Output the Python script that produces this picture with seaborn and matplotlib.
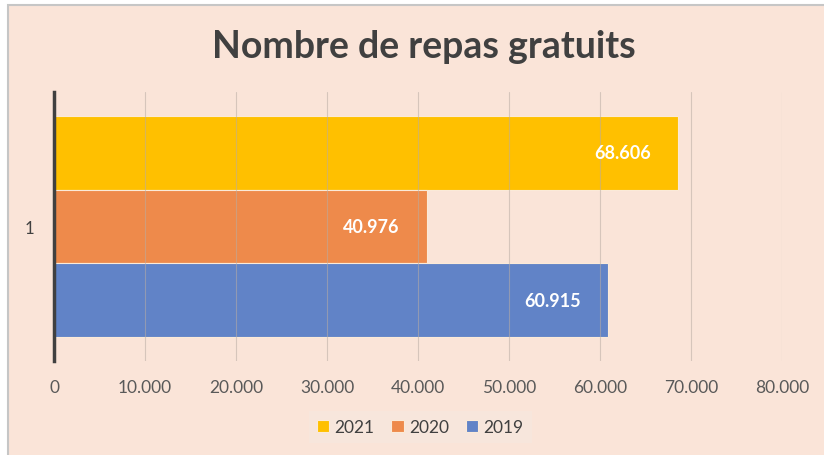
import pandas as pd
import seaborn as sns
import matplotlib.pyplot as plt
from matplotlib.patches import Rectangle

# valeurs
annees = ["2021", "2020", "2019"]
repas = [68606, 40976, 60915]
categorie = ["1", "1", "1"]
couleurs = ["#FFC000", "#EE8A4B", "#6183C7"]
graduations = [0, 10000, 20000, 30000, 40000, 50000, 60000, 70000, 80000]

df = pd.DataFrame({"cat": categorie, "annee": annees, "repas": repas})

fond = "#FAE4D8"
sns.set_theme(style="white")
plt.rcParams["font.family"] = ["Lato", "DejaVu Sans"]

fig = plt.figure(figsize=(8.24, 4.56), dpi=100, facecolor="white")
fig.patches.append(Rectangle((8 / 824, -0.05), 1.0, 1.05 - 6 / 456, transform=fig.transFigure,
                             facecolor=fond, edgecolor="#c6c6c6", linewidth=1.5, zorder=-10))
ax = fig.add_axes([54 / 824, 1 - 362 / 456, 728 / 824, 269 / 456])
ax.set_facecolor(fond)

sns.barplot(data=df, x="repas", y="cat", hue="annee", hue_order=annees, palette=couleurs,
            orient="h", width=0.82, saturation=1, edgecolor="#fbead8", linewidth=0.8, ax=ax)

ax.set_xlim(0, 80000)
ax.set_xticks(graduations)
ax.set_xticklabels([f"{v:,.0f}".replace(",", ".") for v in graduations], color="#595959", fontsize=12.5)
ax.tick_params(axis="x", length=0, pad=13)
ax.tick_params(axis="y", length=0, pad=14, labelcolor="#404040", labelsize=12)
ax.set_xlabel("")
ax.set_ylabel("")

ax.grid(axis="x", color="#b9aca4", linewidth=0.8, alpha=0.55)
ax.set_axisbelow(False)
for s in ["top", "right", "bottom"]:
    ax.spines[s].set_visible(False)
ax.spines["left"].set_color("#404040")
ax.spines["left"].set_linewidth(2.5)
ax.spines["left"].set_zorder(5)

for cont in ax.containers:
    for rect in cont:
        v = rect.get_width()
        ax.annotate(f"{v:,.0f}".replace(",", "."), xy=(v, rect.get_y() + rect.get_height() / 2),
                    xytext=(-20, 0), textcoords="offset points", ha="right", va="center",
                    color="white", fontsize=13, fontweight="bold", zorder=6)

fig.text(0.515, 1 - 47 / 456, "Nombre de repas gratuits", ha="center", va="center",
         fontsize=27, fontweight="bold", color="#404040")

ax.get_legend().remove()
handles, labels = ax.get_legend_handles_labels()
leg = fig.legend(handles, labels, loc="center", bbox_to_anchor=(0.51, 1 - 428 / 456), ncol=3,
                 frameon=True, fontsize=12.5, handlelength=0.7, handleheight=0.7, handletextpad=0.3,
                 columnspacing=1.0, borderpad=0.45, fancybox=False)
leg.get_frame().set_facecolor("#F7E7DE")
leg.get_frame().set_edgecolor("none")
for t in leg.get_texts():
    t.set_color("#404040")

fig.savefig("out.png", dpi=100, facecolor=fig.get_facecolor())
